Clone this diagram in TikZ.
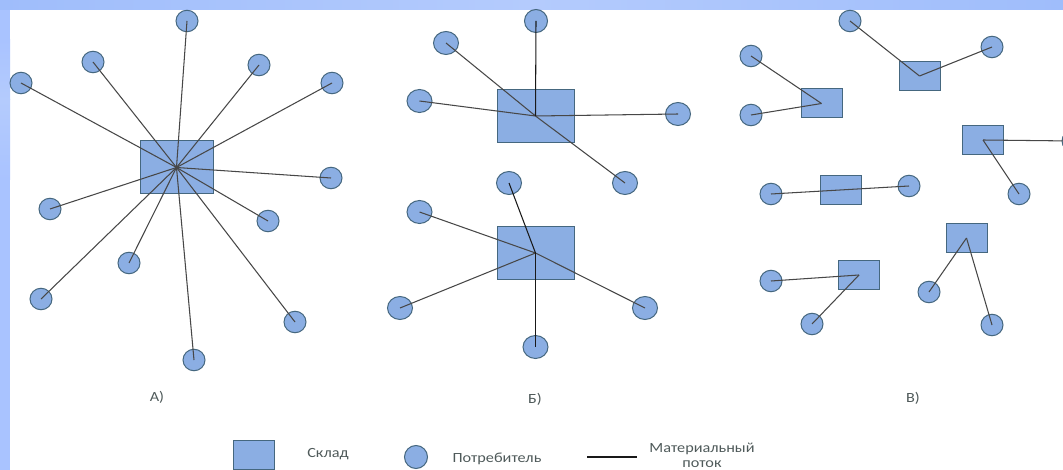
\documentclass[tikz,border=0pt]{standalone}
\usepackage{fontspec}
\usetikzlibrary{shapes.geometric}
\setmainfont{Carlito}
\newfontfamily\widefont[FakeStretch=1.16]{Carlito}
\definecolor{band}{HTML}{9FBDFB}
\definecolor{bandl}{HTML}{B4CBFD}
\definecolor{bandm}{HTML}{A9C3FF}
\definecolor{fillb}{HTML}{8BAEE3}
\definecolor{edgeb}{HTML}{45677F}
\definecolor{txt}{HTML}{4F5A5A}
\tikzset{
  cons/.style={ellipse,draw=edgeb,fill=fillb,line width=1pt,minimum width=22pt,minimum height=21.5pt,inner sep=0pt},
  consb/.style={cons,minimum width=25pt,minimum height=23pt},
  wh/.style={rectangle,draw=edgeb,fill=fillb,line width=1pt,inner sep=0pt},
  whA/.style={wh,minimum width=73pt,minimum height=53pt},
  whB/.style={wh,minimum width=77pt,minimum height=53pt},
  whC/.style={wh,minimum width=41pt,minimum height=29pt},
  flow/.style={draw=black!72,line width=1.05pt},
  flowd/.style={draw=black!90,line width=1.05pt},
  lab/.style={text=txt,font=\widefont\fontsize{14}{15}\selectfont,inner sep=0pt,align=center}
}
\begin{document}
\begin{tikzpicture}[x=1pt,y=-1pt]
\useasboundingbox (0,0) rectangle (1063,470);
\fill[white] (0,0) rectangle (1063,470);
\fill[left color=band,right color=band,middle color=bandl] (0,0) rectangle (1063,10);
\fill[bandm] (0,10) rectangle (10,470);
\fill[top color=bandm,bottom color=bandl] (0,40) rectangle (10,100);
\fill[top color=bandl,bottom color=bandm] (0,100) rectangle (10,180);
\begin{scope}
\clip (0,0) rectangle (1063,470);
% A
\node[whA] (wa) at (176.5,167.5) {};
\foreach \n/\x/\y in {a1/187/21,a2/93/62,a3/21/83,a4/259/65,a5/332/83,a6/331/178,a7/268/221,a8/50/209,a9/129/263,a10/41/299,a11/295/322,a12/194/360}
  {\node[cons] (\n) at (\x,\y) {};}
% B
\node[whB] (wb1) at (535.5,116) {};
\node[cons,minimum width=23pt,minimum height=23pt] (b1) at (536,21) {};
\foreach \n/\x/\y in {b2/446/43,b3/419.5/101,b4/678/114,b5/625/183}
  {\node[consb] (\n) at (\x,\y) {};}
\node[whB] (wb2) at (535.5,253) {};
\foreach \n/\x/\y in {b6/509/183,b7/419.5/212,b8/400/308,b9/645/308,b10/535.5/347}
  {\node[consb] (\n) at (\x,\y) {};}
% C
\node[whC] (c1) at (821.5,103.5) {};
\node[whC] (c2) at (919.5,76) {};
\node[whC] (c3) at (983,140) {};
\node[whC] (c4) at (841,190.5) {};
\node[whC] (c5) at (859,275) {};
\node[whC] (c6) at (966.5,238) {};
\foreach \n/\x/\y in {d1/751/56,d2/751/115,d3/850/21,d4/992/47,d5/1073/141,d6/1019/194,d7/771/194,d8/909/186,d9/771/281,d10/812/324,d11/929/292,d12/992/325}
  {\node[cons] (\n) at (\x,\y) {};}
% flows
\foreach \n in {a1,a2,a3,a4,a5,a6,a7,a8,a9,a10,a11,a12}
  {\draw[flow] (wa.center) -- (\n.center);}
\foreach \n in {b2,b3,b4,b5}
  {\draw[flow] (wb1.center) -- (\n.center);}
\draw[flowd] (wb1.center) -- (b1.center);
\foreach \n in {b7,b8,b9}
  {\draw[flow] (wb2.center) -- (\n.center);}
\draw[flowd] (wb2.center) -- (b6.center);
\draw[flowd] (wb2.center) -- (b10.center);
\draw[flow] (c1.center) -- (d1.center);
\draw[flow] (c1.center) -- (d2.center);
\draw[flow] (c2.center) -- (d3.center);
\draw[flow] (c2.center) -- (d4.center);
\draw[flow] (c3.center) -- (d5.center);
\draw[flow] (c3.center) -- (d6.center);
\draw[flow] (d7.center) -- (d8.center);
\draw[flow] (c5.center) -- (d9.center);
\draw[flow] (c5.center) -- (d10.center);
\draw[flow] (c6.center) -- (d11.center);
\draw[flow] (c6.center) -- (d12.center);
\end{scope}
% captions
\node[lab] (ta) at (157,397) {А)};
\node[lab] (tb) at (535,399) {Б)};
\node[lab] (tc) at (913,398) {В)};
% legend
\node[wh,minimum width=41pt,minimum height=29pt] (lw) at (253.5,455) {};
\node[lab] (lwt) at (328,454) {Склад};
\node[cons,minimum width=23pt,minimum height=23pt] (lc) at (416,457) {};
\node[lab] (lct) at (497,459) {Потребитель};
\coordinate (f1) at (587,457);
\coordinate (f2) at (637,457);
\draw[flowd] (f1) -- (f2);
\node[lab] (lft) at (702,455.5) {Материальный\\поток};
\end{tikzpicture}
\end{document}
